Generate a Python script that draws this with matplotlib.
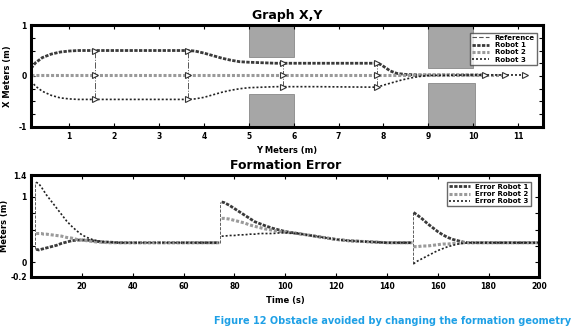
import numpy as np
import matplotlib
matplotlib.use('Agg')
import matplotlib.pyplot as plt
from matplotlib.patches import Rectangle

# ---- trajectories (Graph X,Y) ----
# y-axis of the robots (x on the plot) and lateral position
r1_x = [0.15, 0.25, 0.4, 0.6, 0.8, 1.0, 1.2, 1.58, 2.5, 3.65, 3.8, 4.0, 4.2, 4.4, 4.6, 4.8, 5.0, 5.3, 5.6, 6.5, 7.86, 7.95, 8.05, 8.15, 8.3, 8.5, 8.8, 9.5, 10.27]
r1_y = [0.15, 0.26, 0.36, 0.43, 0.47, 0.49, 0.50, 0.50, 0.50, 0.50, 0.49, 0.45, 0.40, 0.35, 0.31, 0.28, 0.27, 0.26, 0.25, 0.25, 0.25, 0.22, 0.16, 0.10, 0.05, 0.03, 0.02, 0.02, 0.02]
r2_x = [0.15, 1.58, 3.65, 5.77, 7.86, 9.0, 10.0, 10.7]
r2_y = [0.02, 0.02, 0.02, 0.02, 0.02, 0.02, 0.02, 0.02]
r3_x = [0.15, 0.25, 0.4, 0.6, 0.8, 1.0, 1.2, 1.58, 2.5, 3.65, 3.8, 4.0, 4.2, 4.4, 4.6, 4.8, 5.0, 5.3, 5.6, 6.5, 7.86, 8.0, 8.2, 8.4, 8.6, 8.8, 9.0, 10.0, 11.16]
r3_y = [-0.10, -0.20, -0.30, -0.38, -0.43, -0.45, -0.46, -0.46, -0.46, -0.46, -0.45, -0.42, -0.37, -0.32, -0.28, -0.25, -0.23, -0.22, -0.21, -0.21, -0.22, -0.18, -0.13, -0.08, -0.04, -0.01, 0.01, 0.02, 0.02]

# formation snapshots (triangles + reference lines)
form_x = [1.58, 3.65, 5.77, 7.86]
form_top = [0.50, 0.50, 0.25, 0.25]
form_mid = [0.02, 0.02, 0.02, 0.02]
form_bot = [-0.46, -0.46, -0.21, -0.22]
end_x = [10.27, 10.7, 11.16]
end_y = [0.02, 0.02, 0.02]

# obstacles: (x0, x1, y0, y1)
obst_x0 = [5.0, 5.0, 9.0, 9.0]
obst_x1 = [6.0, 6.0, 10.0, 10.05]
obst_y0 = [0.37, -1.0, 0.15, -1.0]
obst_y1 = [1.0, -0.35, 1.0, -0.13]

# ---- formation error ----
nan = np.nan
t_err = [2, 3, 4, 5, 6, 8, 10, 12, 14, 16, 18, 20, 22, 24, 26, 28, 30, 35, 40, 50, 60, 70, 74, nan,
         75, 76, 78, 80, 82, 84, 86, 88, 90, 92, 95, 98, 100, 105, 110, 115, 120, 125, 130, 135, 140, 145, 150, nan,
         150.5, 152, 154, 156, 158, 160, 162, 164, 166, 168, 170, 172, 175, 180, 190, 200]
e_r1 = [0.20, 0.19, 0.20, 0.21, 0.22, 0.24, 0.26, 0.29, 0.31, 0.33, 0.34, 0.34, 0.34, 0.33, 0.32, 0.31, 0.31, 0.30, 0.30, 0.30, 0.30, 0.30, 0.30, nan,
        0.92, 0.91, 0.87, 0.82, 0.77, 0.72, 0.67, 0.62, 0.59, 0.56, 0.52, 0.49, 0.47, 0.44, 0.41, 0.38, 0.35, 0.33, 0.32, 0.31, 0.30, 0.30, 0.30, nan,
        0.76, 0.72, 0.66, 0.59, 0.53, 0.47, 0.42, 0.38, 0.35, 0.33, 0.31, 0.30, 0.30, 0.30, 0.30, 0.30]
e_r2 = [0.44, 0.44, 0.44, 0.43, 0.43, 0.42, 0.41, 0.40, 0.38, 0.37, 0.35, 0.34, 0.33, 0.32, 0.31, 0.31, 0.30, 0.30, 0.30, 0.30, 0.30, 0.30, 0.30, nan,
        0.67, 0.67, 0.66, 0.64, 0.62, 0.60, 0.57, 0.55, 0.53, 0.51, 0.49, 0.47, 0.46, 0.44, 0.41, 0.38, 0.35, 0.33, 0.32, 0.31, 0.30, 0.30, 0.30, nan,
        0.24, 0.24, 0.25, 0.25, 0.26, 0.27, 0.28, 0.28, 0.29, 0.29, 0.30, 0.30, 0.30, 0.30, 0.30, 0.30]
e_r3 = [1.22, 1.20, 1.15, 1.09, 1.03, 0.93, 0.83, 0.73, 0.63, 0.55, 0.48, 0.42, 0.38, 0.35, 0.33, 0.32, 0.31, 0.30, 0.30, 0.30, 0.30, 0.30, 0.30, nan,
        0.40, 0.40, 0.41, 0.41, 0.42, 0.42, 0.43, 0.43, 0.44, 0.44, 0.44, 0.45, 0.45, 0.44, 0.41, 0.38, 0.35, 0.33, 0.32, 0.31, 0.30, 0.30, 0.30, nan,
        -0.02, 0.02, 0.06, 0.10, 0.14, 0.18, 0.21, 0.24, 0.26, 0.28, 0.29, 0.30, 0.30, 0.30, 0.30, 0.30]
# jumps (dashed)
jump_t = [1.5, 74.5, 150.2]
jump_lo = [0.20, 0.30, -0.02]
jump_hi = [1.22, 0.92, 0.76]

s1 = dict(color='#3a3a3a', lw=2.0, ls=(0, (1.2, 0.5)))
s2 = dict(color='#9a9a9a', lw=2.2, ls=(0, (1.0, 0.6)))
s3 = dict(color='#222222', lw=1.2, ls=(0, (1.2, 1.2)))

plt.rcParams['font.family'] = 'DejaVu Sans'
fig = plt.figure(figsize=(5.75, 3.34), dpi=100)

# ---- top axes ----
ax1 = fig.add_axes([0.054, 0.620, 0.890, 0.305])
for a, b, c, d in zip(obst_x0, obst_x1, obst_y0, obst_y1):
    ax1.add_patch(Rectangle((a, c), b - a, d - c, facecolor='#a6a6a6', edgecolor='#888888', lw=0.6))
ax1.vlines(form_x, form_bot, form_top, colors='#555555', linestyles='-.', lw=0.7)
ax1.plot([], [], color='#555555', ls=(0, (4, 2)), lw=0.8, label='Reference')
ax1.plot(r1_x, r1_y, label='Robot 1', **s1)
ax1.plot(r2_x, r2_y, label='Robot 2', **s2)
ax1.plot(r3_x, r3_y, label='Robot 3', **s3)
for yy in (form_top, form_mid, form_bot):
    ax1.plot(form_x, yy, ls='none', marker='>', ms=5, mfc='white', mec='#333333', mew=0.8)
ax1.plot(end_x, end_y, ls='none', marker='>', ms=5, mfc='white', mec='#333333', mew=0.8)
ax1.set_xlim(0.15, 11.55)
ax1.set_ylim(-1, 1)
ax1.set_xticks(range(1, 12))
ax1.set_yticks(np.arange(-1, 1.01, 0.25))
ax1.set_yticklabels(['-1', '', '', '', '0', '', '', '', '1'])
ax1.set_title('Graph X,Y', fontsize=9, fontweight='bold', pad=4)
ax1.set_xlabel('Y Meters (m)', fontsize=6, fontweight='bold', labelpad=3)
ax1.set_ylabel('X Meters (m)', fontsize=6, fontweight='bold', labelpad=5)
ax1.legend(loc='upper right', prop={'weight': 'bold', 'size': 5}, frameon=True,
           fancybox=False, edgecolor='#444444', handlelength=2.5, borderpad=0.3,
           labelspacing=0.2, bbox_to_anchor=(0.995, 0.96))

# ---- bottom axes ----
ax2 = fig.add_axes([0.054, 0.171, 0.884, 0.305])
ax2.vlines(jump_t, jump_lo, jump_hi, colors='#444444', linestyles='--', lw=0.6)
ax2.plot(t_err, e_r1, label='Error Robot 1', **s1)
ax2.plot(t_err, e_r2, label='Error Robot 2', **s2)
ax2.plot(t_err, e_r3, label='Error Robot 3', **s3)
ax2.set_xlim(0, 200)
ax2.set_ylim(-0.22, 1.33)
ax2.set_xticks(range(20, 201, 20))
ax2.set_yticks([-0.22, 0, 0.25, 0.5, 0.75, 1, 1.33])
ax2.set_yticklabels(['-0.2', '0', '', '', '', '1', '1.4'])
ax2.set_title('Formation Error', fontsize=9, fontweight='bold', pad=4)
ax2.set_xlabel('Time (s)', fontsize=6, fontweight='bold', labelpad=3)
ax2.set_ylabel('Meters (m)', fontsize=6, fontweight='bold', labelpad=1)
ax2.legend(loc='upper right', prop={'weight': 'bold', 'size': 5}, frameon=True, fancybox=False,
           edgecolor='#444444', handlelength=3, borderpad=0.3, labelspacing=0.2,
           bbox_to_anchor=(0.99, 0.97))

for ax in (ax1, ax2):
    for sp in ax.spines.values():
        sp.set_linewidth(2.2)
    ax.tick_params(direction='in', length=3, width=0.8, top=True, right=True, labelsize=5.5, pad=4)
    ax.tick_params(axis='y', pad=3)
    for lab in ax.get_xticklabels() + ax.get_yticklabels():
        lab.set_fontweight('bold')

fig.text(0.993, 0.038, 'Figure 12 Obstacle avoided by changing the formation geometry',
         ha='right', va='center', color='#1ea0e6', fontsize=7.0, fontweight='bold')

fig.savefig('out.png', dpi=100)
